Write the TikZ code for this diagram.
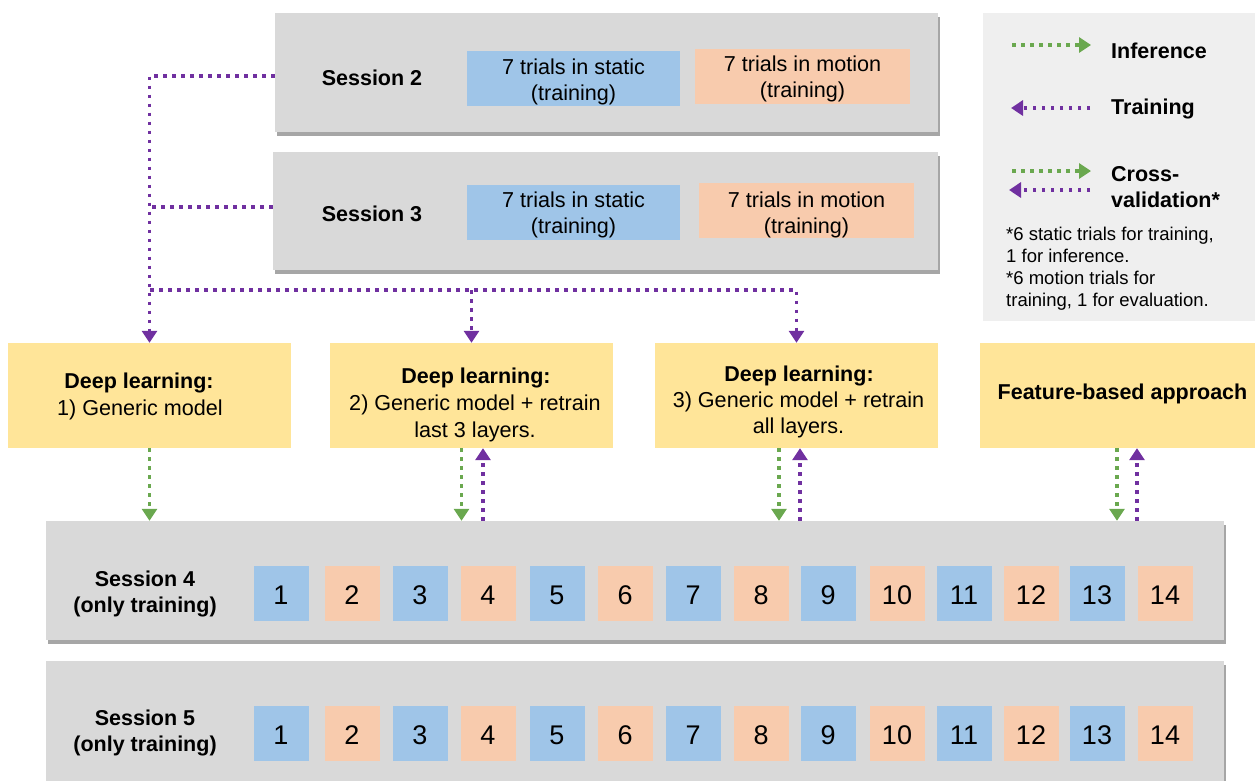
\documentclass[tikz,border=0pt]{standalone}
\usepackage{fontspec}
\setmainfont{Liberation Sans}
\usetikzlibrary{arrows.meta,shadows}
\definecolor{sessgray}{HTML}{D9D9D9}
\definecolor{leggray}{HTML}{EFEFEF}
\definecolor{tblue}{HTML}{9FC5E8}
\definecolor{torange}{HTML}{F8CBAD}
\definecolor{dlyellow}{HTML}{FFE599}
\definecolor{infgreen}{HTML}{6AA84F}
\definecolor{trnpurple}{HTML}{7030A0}
\tikzset{
  sess/.style={fill=sessgray, draw=none, inner sep=0pt,
    drop shadow={shadow xshift=1.5pt, shadow yshift=-3.5pt, fill=black, opacity=0.35}},
  trialbox/.style={draw=none, inner sep=0pt, minimum width=213pt, minimum height=55pt},
  sq/.style={draw=none, inner sep=0pt, minimum width=55pt, minimum height=55pt,
    text height=22pt, text depth=0pt, font=\fontsize{27}{30}\selectfont},
  dlbox/.style={fill=dlyellow, draw=none, inner sep=0pt, minimum height=105pt},
  lbl/.style={align=center, inner sep=0pt, font=\fontsize{21.6}{26.5}\selectfont},
  blbl/.style={align=center, inner sep=0pt, font=\bfseries\fontsize{21.5}{26}\selectfont},
  inf/.style={draw=infgreen, line width=3.5pt, dash pattern=on 3.5pt off 5.5pt,
    -{Triangle[width=15pt,length=12pt]}},
  trn/.style={draw=trnpurple, line width=3.5pt, dash pattern=on 3.5pt off 5.5pt,
    -{Triangle[width=15pt,length=12pt]}},
  trnline/.style={draw=trnpurple, line width=3.5pt, dash pattern=on 3.5pt off 5.5pt}
}
\begin{document}
\begin{tikzpicture}[x=1pt,y=-1pt]
\useasboundingbox (0,0) rectangle (1255,780);

% legend
\node[fill=leggray, draw=none, inner sep=0pt, minimum width=272pt, minimum height=308pt] (leg) at (1119,167) {};
\coordinate (li1) at (1012,45); \coordinate (li2) at (1091,45);
\coordinate (lt1) at (1090,108); \coordinate (lt2) at (1011,108);
\coordinate (lc1) at (1012,171); \coordinate (lc2) at (1091,171);
\coordinate (ld1) at (1090,190); \coordinate (ld2) at (1009,190);
\draw[inf] (li1) -- (li2);
\draw[trn] (lt1) -- (lt2);
\draw[inf] (lc1) -- (lc2);
\draw[trn] (ld1) -- (ld2);
\node[blbl, anchor=west] (linf) at (1111,51) {Inference};
\node[blbl, anchor=west] (ltrn) at (1111,109) {Training};
\node[blbl, anchor=west, align=left] (lcv) at (1111,187.5) {Cross-\\validation*};
\node[anchor=north west, align=left, inner sep=0pt, font=\fontsize{18.5}{22}\selectfont] (lnote) at (1006,227)
  {*6 static trials for training,\\1 for inference.\\*6 motion trials for\\training, 1 for evaluation.};

% session 2 and 3
\node[sess, minimum width=663pt, minimum height=119pt] (s2) at (606.5,72.5) {};
\node[blbl] (s2t) at (372,78) {Session 2};
\node[trialbox, fill=tblue] (s2a) at (573.5,78.5) {};
\node[lbl] (s2at) at (573.5,82) {7 trials in static\\(training)};
\node[trialbox, fill=torange, minimum width=215pt] (s2b) at (802.5,76) {};
\node[lbl] (s2bt) at (802.5,79) {7 trials in motion\\(training)};

\node[sess, minimum width=665pt, minimum height=118pt] (s3) at (605.5,211) {};
\node[blbl] (s3t) at (372,214) {Session 3};
\node[trialbox, fill=tblue] (s3a) at (573.5,212.5) {};
\node[lbl] (s3at) at (573.5,215) {7 trials in static\\(training)};
\node[trialbox, fill=torange, minimum width=215pt] (s3b) at (806.5,210.5) {};
\node[lbl] (s3bt) at (806.5,215) {7 trials in motion\\(training)};

% deep learning boxes
\node[dlbox, minimum width=283pt] (dl1) at (149.5,395.5) {};
\node[blbl] (dl1a) at (139,383) {Deep learning:};
\node[lbl] (dl1b) at (140,410) {1) Generic model};

\node[dlbox, minimum width=283pt] (dl2) at (471.5,395.5) {};
\node[blbl] (dl2a) at (476,378) {Deep learning:};
\node[lbl] (dl2b) at (475,418.5) {2) Generic model + retrain\\last 3 layers.};

\node[dlbox, minimum width=283pt] (dl3) at (796.5,395.5) {};
\node[blbl] (dl3a) at (799,376) {Deep learning:};
\node[lbl] (dl3b) at (798.5,415) {3) Generic model + retrain\\all layers.};

\node[dlbox, minimum width=275pt] (fb) at (1117.5,395.5) {};
\node[blbl] (fbt) at (1122.5,394) {Feature-based approach};

% session 4 and 5
\node[sess, minimum width=1178pt, minimum height=119pt] (s4) at (635,580.5) {};
\node[blbl] (s4t) at (145,594) {Session 4\\(only training)};
\node[sess, minimum width=1178pt, minimum height=124pt] (s5) at (635,723) {};
\node[blbl] (s5t) at (145,733) {Session 5\\(only training)};

\foreach \i/\x in {1/281,2/352,3/420,4/488,5/557,6/625,7/693,8/761,9/828,10/897,11/964,12/1031,13/1097,14/1165} {
  \pgfmathtruncatemacro{\odd}{mod(\i,2)}
  \ifnum\odd=1 \def\c{tblue}\else\def\c{torange}\fi
  \node[sq, fill=\c] (t4-\i) at (\x,593.5) {\i};
  \node[sq, fill=\c] (t5-\i) at (\x,733.5) {\i};
}

% training connectors from sessions 2/3
\draw[trn] ([yshift=-3.5pt]s2.west) -| (dl1.north);
\draw[trnline] ([yshift=4pt]s3.west) -- ([yshift=4pt]s3.west -| dl1.north);
\coordinate (j) at (150,290);
\draw[trn] (j) -| (dl3.north);
\draw[trn] (j -| dl2.north) -- (dl2.north);

% connectors to session 4
\draw[inf] (dl1.south) -- (dl1.south |- s4.north);
\coordinate (g2) at ([xshift=-10pt]dl2.south);
\coordinate (p2) at ([xshift=11.5pt]dl2.south);
\draw[inf] (g2) -- (g2 |- s4.north);
\draw[trn] (p2 |- s4.north) -- (p2);
\coordinate (g3) at ([xshift=-17.5pt]dl3.south);
\coordinate (p3) at ([xshift=3.5pt]dl3.south);
\draw[inf] (g3) -- (g3 |- s4.north);
\draw[trn] (p3 |- s4.north) -- (p3);
\coordinate (g4) at ([xshift=-0.5pt]fb.south);
\coordinate (p4) at ([xshift=19.5pt]fb.south);
\draw[inf] (g4) -- (g4 |- s4.north);
\draw[trn] (p4 |- s4.north) -- (p4);
\end{tikzpicture}
\end{document}
